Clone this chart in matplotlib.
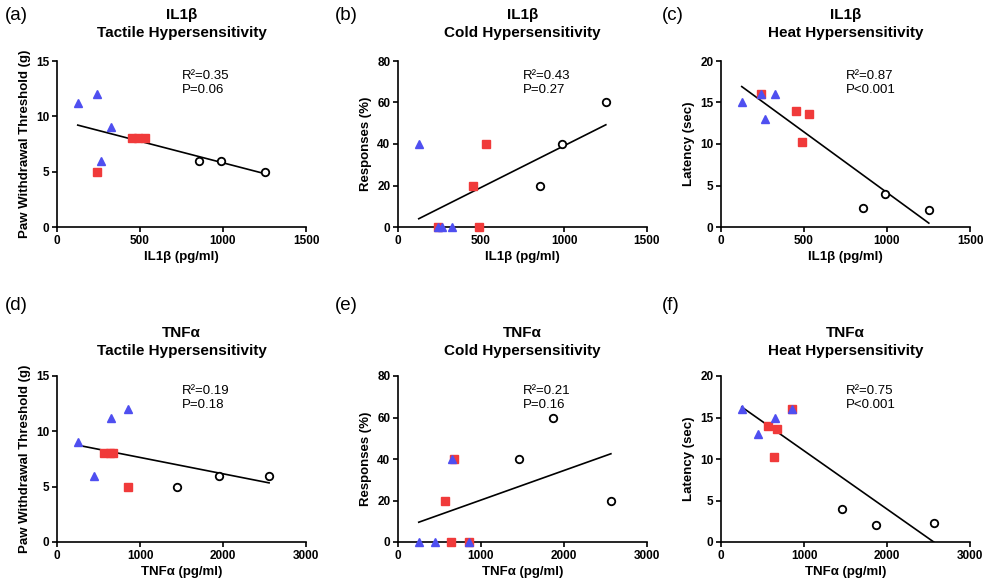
import numpy as np
import matplotlib
matplotlib.use("Agg")
import matplotlib.pyplot as plt

plt.rcParams['font.family'] = ['Liberation Sans', 'DejaVu Sans']

# ---- data (per subject group) ----
il1b_tri = [125, 240, 265, 325]
il1b_sq = [240, 450, 488, 532]
il1b_circ = [858, 985, 1252]

tnf_tri = [646, 850, 448, 250]
tnf_sq = [860, 562, 643, 680]
tnf_circ = [2565, 1462, 1865]
tnf_circ_tactile = [2555, 1450, 1950]

tactile_tri = [11.2, 12, 6, 9]
tactile_sq = [5, 8, 8, 8]
tactile_circ = [6, 6, 5]
tactile_circ_tnf = [6, 5, 6]

cold_tri = [40, 0, 0, 0]
cold_sq = [0, 20, 0, 40]
cold_circ = [20, 40, 60]

heat_tri = [15, 16, 13, 16]
heat_sq = [16, 14, 10.2, 13.6]
heat_circ = [2.3, 4, 2]

panel_letters = ['(a)', '(b)', '(c)', '(d)', '(e)', '(f)']
cytokines = ['IL1β', 'IL1β', 'IL1β', 'TNFα', 'TNFα', 'TNFα']
tests = ['Tactile Hypersensitivity', 'Cold Hypersensitivity', 'Heat Hypersensitivity'] * 2
ylabels = ['Paw Withdrawal Threshold (g)', 'Responses (%)', 'Latency (sec)'] * 2
xlabels = ['IL1β (pg/ml)'] * 3 + ['TNFα (pg/ml)'] * 3
r2_text = ['R²=0.35', 'R²=0.43', 'R²=0.87', 'R²=0.19', 'R²=0.21', 'R²=0.75']
p_text = ['P=0.06', 'P=0.27', 'P<0.001', 'P=0.18', 'P=0.16', 'P<0.001']
xmax = [1500, 1500, 1500, 3000, 3000, 3000]
xstep = [500, 500, 500, 1000, 1000, 1000]
ymax = [15, 80, 20, 15, 80, 20]
ystep = [5, 20, 5, 5, 20, 5]

panels = [
    (il1b_tri, tactile_tri, il1b_sq, tactile_sq, il1b_circ, tactile_circ),
    (il1b_tri, cold_tri, il1b_sq, cold_sq, il1b_circ, cold_circ),
    (il1b_tri, heat_tri, il1b_sq, heat_sq, il1b_circ, heat_circ),
    (tnf_tri, tactile_tri, tnf_sq, tactile_sq, tnf_circ_tactile, tactile_circ_tnf),
    (tnf_tri, cold_tri, tnf_sq, cold_sq, tnf_circ, cold_circ),
    (tnf_tri, heat_tri, tnf_sq, heat_sq, tnf_circ, heat_circ),
]

BLUE = '#4f4ff0'
RED = '#f03a3a'

W, H = 985, 587
fig = plt.figure(figsize=(W / 100, H / 100), dpi=100)

lefts = [57, 398, 721]
tops = [61, 376]
aw, ah = 249, 166

for i in range(6):
    r, c = divmod(i, 3)
    l = lefts[c]
    t = tops[r]
    ax = fig.add_axes([l / W, 1 - (t + ah) / H, aw / W, ah / H])
    xt, yt, xs, ys, xc, yc = panels[i]
    allx = np.array(xt + xs + xc, dtype=float)
    ally = np.array(yt + ys + yc, dtype=float)
    m, b = np.polyfit(allx, ally, 1)
    xx = np.array([allx.min(), allx.max()])
    ax.plot(xx, m * xx + b, color='black', lw=1.2, zorder=2)
    ax.plot(xs, ys, 's', color=RED, ms=5.5, mec=RED, zorder=3, clip_on=False)
    ax.plot(xt, yt, '^', color=BLUE, ms=5.8, mec=BLUE, zorder=4, clip_on=False)
    ax.plot(xc, yc, 'o', mfc='white', mec='black', mew=1.3, ms=5.4, zorder=5, clip_on=False)

    ax.set_xlim(0, xmax[i])
    ax.set_ylim(0, ymax[i])
    ax.set_xticks(np.arange(0, xmax[i] + 1, xstep[i]))
    ax.set_yticks(np.arange(0, ymax[i] + 1, ystep[i]))
    for s in ['top', 'right']:
        ax.spines[s].set_visible(False)
    for s in ['left', 'bottom']:
        ax.spines[s].set_linewidth(1.2)
    ax.tick_params(direction='out', length=3.5, width=1.2, labelsize=8.5, pad=2)
    for lab in ax.get_xticklabels() + ax.get_yticklabels():
        lab.set_fontweight('bold')
    ax.set_xlabel(xlabels[i], fontsize=9.5, fontweight='bold', labelpad=3)
    ax.set_ylabel(ylabels[i], fontsize=9.5, fontweight='bold', labelpad=4)

    ax.text(0.50, 0.91, r2_text[i], transform=ax.transAxes, fontsize=9.5,
            ha='left', va='center')
    ax.text(0.50, 0.825, p_text[i], transform=ax.transAxes, fontsize=9.5,
            ha='left', va='center')

    cx = (l + aw / 2) / W
    ty1 = 15 if r == 0 else 333
    ty2 = 33 if r == 0 else 351
    fig.text(cx, 1 - ty1 / H, cytokines[i], ha='center', va='center',
             fontsize=11, fontweight='bold')
    fig.text(cx, 1 - ty2 / H, tests[i], ha='center', va='center',
             fontsize=11, fontweight='bold')
    lx = [5, 335, 662][c]
    ly = 15 if r == 0 else 305
    fig.text(lx / W, 1 - ly / H, panel_letters[i], ha='left', va='center',
             fontsize=13.5)

fig.savefig('out.png', dpi=100)
